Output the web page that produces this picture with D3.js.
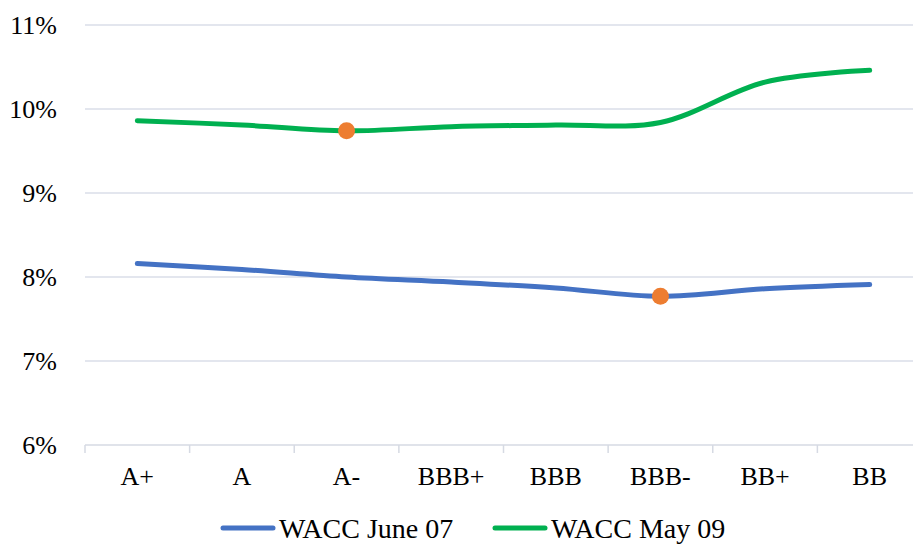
<!DOCTYPE html>
<html>
<head>
<meta charset="utf-8">
<script src="https://cdn.jsdelivr.net/npm/d3@7"></script>
<style>
  html, body { margin: 0; padding: 0; background: #fff; overflow: hidden; }
  svg { display: block; }
  text { font-family: "Liberation Serif", "Times New Roman", serif; fill: #000; }
</style>
</head>
<body>
<svg id="chart" width="913" height="544"></svg>
<script>
// Credit ratings along the x axis
const ratings = ["A+", "A", "A-", "BBB+", "BBB", "BBB-", "BB+", "BB"];
// WACC (%) by rating, two snapshots
const waccJune07 = [8.16, 8.09, 8.0, 7.94, 7.87, 7.77, 7.86, 7.91];
const waccMay09 = [9.86, 9.81, 9.74, 9.79, 9.81, 9.84, 10.32, 10.46];
// Highlighted points: [series index, rating index]
const highlights = [[1, 2], [0, 5]];
const yTicks = [6, 7, 8, 9, 10, 11];
const seriesNames = ["WACC June 07", "WACC May 09"];
const seriesColors = ["#4472C4", "#00B050"];

const svg = d3.select("#chart");
const plotLeft = 85, plotRight = 922, plotTop = 25, plotBottom = 445;

const x = d3.scaleBand().domain(ratings).range([plotLeft, plotRight]);
const y = d3.scaleLinear().domain([6, 11]).range([plotBottom, plotTop]);

// Horizontal gridlines
svg.append("g").selectAll("line").data(yTicks.slice(1)).join("line")
  .attr("x1", plotLeft).attr("x2", 913)
  .attr("y1", d => y(d)).attr("y2", d => y(d))
  .attr("stroke", "#dadee8").attr("stroke-width", 1.3);

// Y labels
svg.append("g").selectAll("text").data(yTicks).join("text")
  .attr("x", 57).attr("y", d => y(d) + 8.5)
  .attr("text-anchor", "end")
  .style("font-size", "26px")
  .text(d => d + "%");

// X axis with tick marks at band boundaries
const xAxis = svg.append("g").attr("transform", `translate(0,${plotBottom})`);
xAxis.append("line").attr("x1", plotLeft).attr("x2", 913)
  .attr("stroke", "#d6dae3").attr("stroke-width", 1.5);
const bounds = ratings.map(r => x(r)).concat([plotRight]);
xAxis.selectAll("line.tick").data(bounds).join("line").attr("class", "tick")
  .attr("x1", d => d).attr("x2", d => d).attr("y1", 0).attr("y2", 8)
  .attr("stroke", "#d6dae3").attr("stroke-width", 1.5);
xAxis.selectAll("text").data(ratings).join("text")
  .attr("x", d => x(d) + x.bandwidth() / 2).attr("y", 40)
  .attr("text-anchor", "middle")
  .style("font-size", "26px")
  .text(d => d);

// Smoothed lines
const line = d3.line()
  .x((d, i) => x(ratings[i]) + x.bandwidth() / 2)
  .y(d => y(d))
  .curve(d3.curveCatmullRom.alpha(0.5));

[waccJune07, waccMay09].forEach((s, k) => {
  svg.append("path").datum(s)
    .attr("d", line)
    .attr("fill", "none")
    .attr("stroke", seriesColors[k])
    .attr("stroke-width", 5)
    .attr("stroke-linecap", "round")
    .attr("stroke-linejoin", "round");
});

// Highlight markers
const allSeries = [waccJune07, waccMay09];
svg.append("g").selectAll("circle").data(highlights).join("circle")
  .attr("cx", d => x(ratings[d[1]]) + x.bandwidth() / 2)
  .attr("cy", d => y(allSeries[d[0]][d[1]]))
  .attr("r", 8.5)
  .attr("fill", "#ED7D31");

// Legend
const legendY = 528;
const legendItems = [{ x: 221 }, { x: 493 }];
legendItems.forEach((it, k) => {
  svg.append("line")
    .attr("x1", it.x + 2).attr("x2", it.x + 52)
    .attr("y1", legendY).attr("y2", legendY)
    .attr("stroke", seriesColors[k]).attr("stroke-width", 5)
    .attr("stroke-linecap", "round");
  svg.append("text")
    .attr("x", it.x + 58).attr("y", 538)
    .style("font-size", "28px")
    .text(seriesNames[k]);
});
</script>
</body>
</html>
